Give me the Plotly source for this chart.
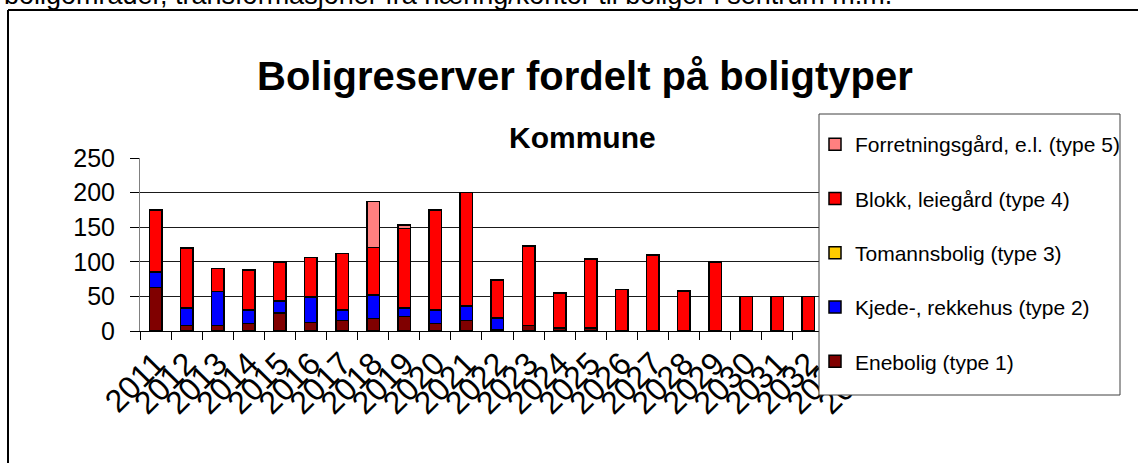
import plotly.graph_objects as go

years = [str(y) for y in range(2011, 2035)]
enebolig = [63, 8, 8, 11, 26, 12, 15, 18, 21, 11, 15, 2, 8, 4, 4, 0, 0, 0, 0, 0, 0, 0, 0, 0]
kjede = [22, 25, 49, 19, 17, 37, 15, 34, 12, 19, 21, 17, 0, 0, 0, 0, 0, 0, 0, 0, 0, 0, 0, 0]
tomanns = [0] * 24
blokk = [90, 87, 33, 58, 57, 57, 82, 69, 115, 145, 164, 55, 115, 51, 100, 60, 110, 58, 100, 50, 50, 50, 0, 0]
forretning = [0, 0, 0, 0, 0, 0, 0, 66, 5, 0, 0, 0, 0, 0, 0, 0, 0, 0, 0, 0, 0, 0, 0, 0]

series = [
    ("Enebolig (type 1)", enebolig, "#800000"),
    ("Kjede-, rekkehus (type 2)", kjede, "#0000FF"),
    ("Tomannsbolig (type 3)", tomanns, "#FFCC00"),
    ("Blokk, leiegård (type 4)", blokk, "#FF0000"),
    ("Forretningsgård, e.l. (type 5)", forretning, "#FF8080"),
]

W, H = 1138, 463
L, R, T, B = 140, 252, 158, 132
PW, PH = W - L - R, H - T - B


def xp(px):
    return (px - L) / PW


def yp(py):
    return (H - B - py) / PH


fig = go.Figure()
n = len(series)
for i, (name, vals, col) in enumerate(series):
    fig.add_trace(go.Bar(
        x=years, y=vals, name=name, legendgroup=f"g{i}", legendrank=n - i,
        marker=dict(color=col, line=dict(color="#000000", width=1.5)),
    ))

FONT = "Liberation Sans, Arial, sans-serif"

fig.update_layout(
    width=W, height=H,
    margin=dict(l=L, r=R, t=T, b=B, pad=0),
    barmode="stack", bargap=0.6,
    paper_bgcolor="white", plot_bgcolor="white",
    font=dict(family=FONT, color="#000000"),
    showlegend=True,
    legend=dict(
        x=xp(815), y=yp(124), xanchor="left", yanchor="top",
        traceorder="grouped", tracegroupgap=24, maxheight=420,
        font=dict(size=21, family=FONT, color="#000000"),
        bgcolor="rgba(0,0,0,0)", borderwidth=0,
    ),
    xaxis=dict(
        type="category", range=[-0.5, len(years) - 0.5],
        tickmode="array", tickvals=years, ticktext=years,
        tickangle=-45, tickfont=dict(size=32, family=FONT),
        ticks="outside", ticklen=8, tickcolor="#000000", tickson="boundaries",
        showline=True, linecolor="#000000", linewidth=1,
        showgrid=False, zeroline=False,
    ),
    yaxis=dict(
        range=[0, 250], tickvals=[0, 50, 100, 150, 200, 250],
        tickfont=dict(size=25, family=FONT),
        ticks="outside", ticklen=9, tickcolor="#000000", ticklabelstandoff=10,
        showline=True, linecolor="#808080", linewidth=1,
        showgrid=True, gridcolor="#1a1a1a", gridwidth=1, zeroline=False,
    ),
    shapes=[
        dict(type="rect", xref="paper", yref="paper",
             x0=xp(819), x1=xp(1120), y0=yp(395), y1=yp(114),
             fillcolor="white", line=dict(color="#404040", width=1), layer="above"),
        dict(type="line", xref="paper", yref="paper",
             x0=xp(8), x1=xp(1145), y0=yp(10), y1=yp(10),
             line=dict(color="#000000", width=2)),
        dict(type="line", xref="paper", yref="paper",
             x0=xp(8), x1=xp(8), y0=yp(10), y1=yp(470),
             line=dict(color="#000000", width=2)),
    ],
    annotations=[
        dict(text="<b>Boligreserver fordelt på boligtyper</b>", xref="paper", yref="paper",
             x=xp(585), y=yp(76), xanchor="center", yanchor="middle", showarrow=False,
             font=dict(size=40, family=FONT, color="#000000")),
        dict(text="<b>Kommune</b>", xref="paper", yref="paper",
             x=xp(582), y=yp(137), xanchor="center", yanchor="middle", showarrow=False,
             font=dict(size=30, family=FONT, color="#000000")),
        dict(text="boligområder, transformasjoner fra næring/kontor til boliger i sentrum m.m.",
             xref="paper", yref="paper",
             x=xp(2), y=yp(12), xanchor="left", yanchor="bottom", showarrow=False,
             font=dict(size=27, family=FONT, color="#000000")),
    ],
)

fig.write_html("out.html", config={"displayModeBar": False},
               post_script="document.body.style.margin='0';")
